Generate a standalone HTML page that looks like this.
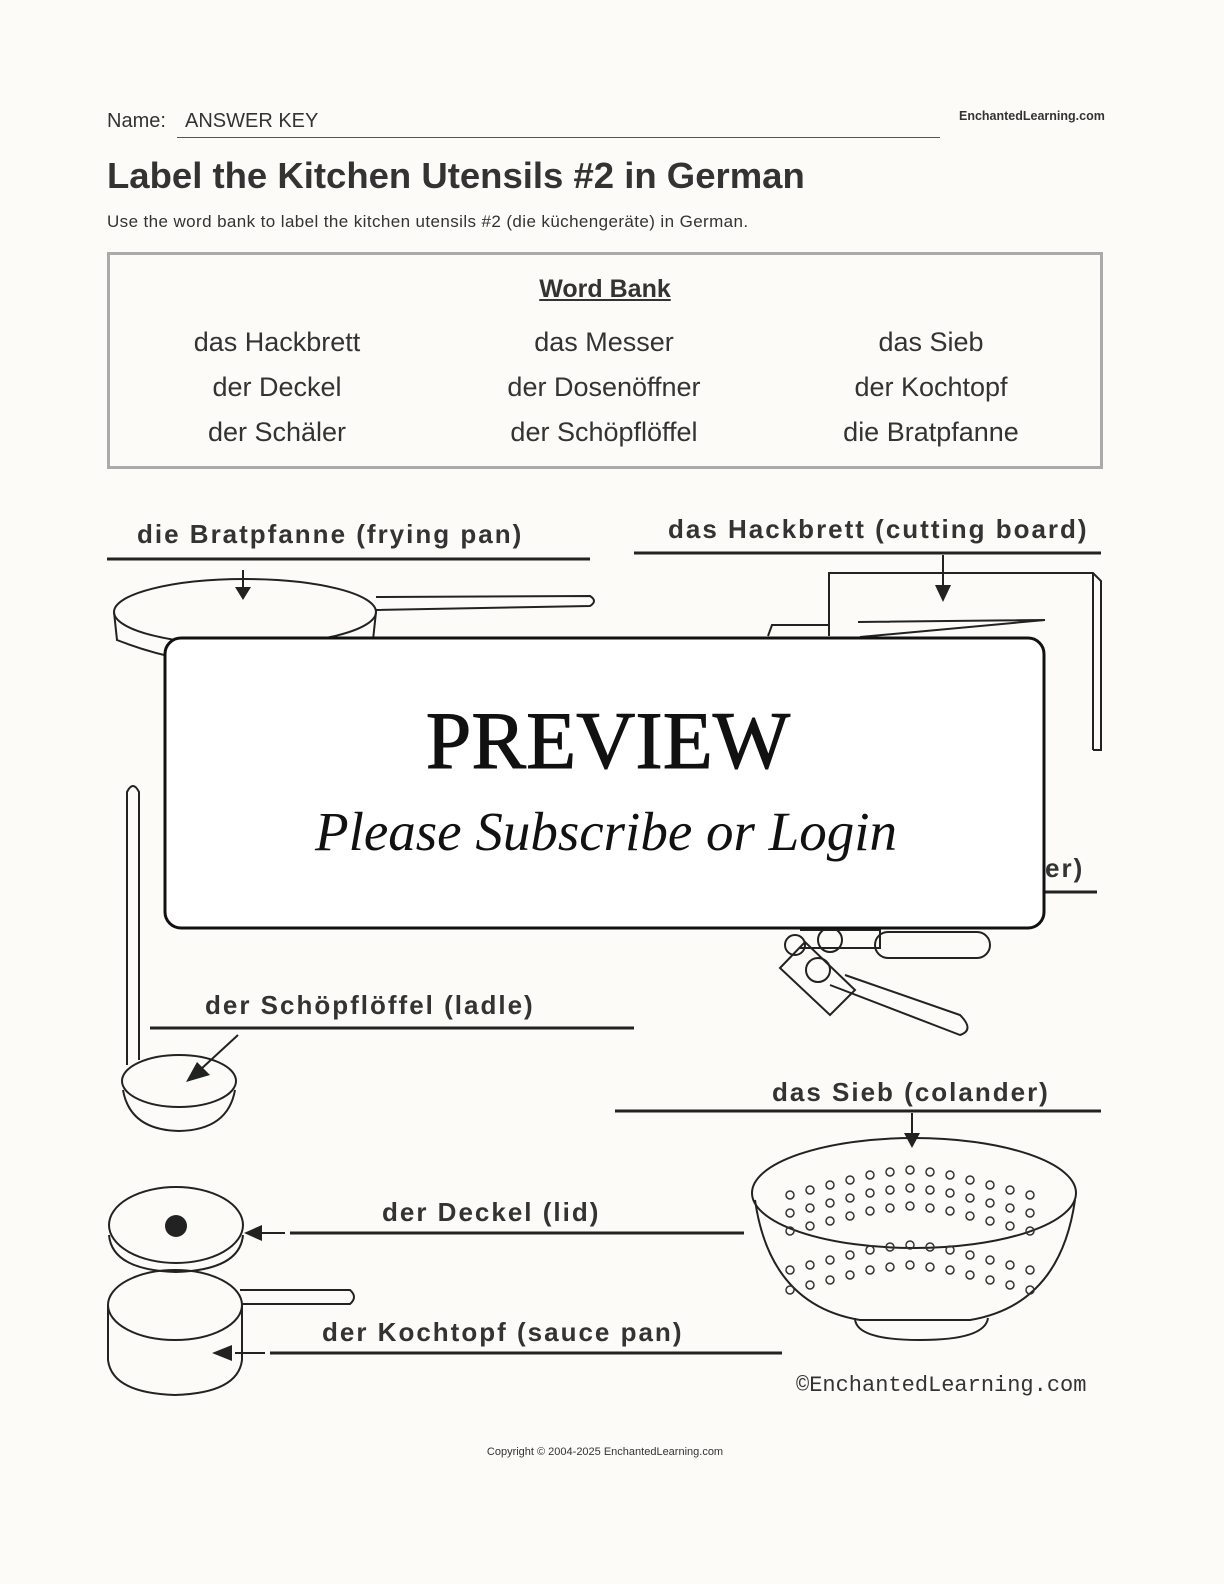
<!DOCTYPE html>
<html><head><meta charset="utf-8"><style>
html,body{margin:0;padding:0;background:#fcfbf8;}
body{width:1224px;height:1584px;position:relative;overflow:hidden;font-family:"Liberation Sans",sans-serif;color:#333;}
.abs{position:absolute;white-space:nowrap;}
</style></head><body>
<div class="abs" style="left:107px;top:110px;font-size:20px;">Name:</div>
<div class="abs" style="left:185px;top:110px;font-size:20px;">ANSWER KEY</div>
<div class="abs" style="left:177px;top:137px;width:763px;border-top:1.5px solid #555;"></div>
<div class="abs" style="left:959px;top:109px;font-size:12.5px;font-weight:bold;">EnchantedLearning.com</div>
<div class="abs" style="left:107px;top:155px;font-size:36.5px;font-weight:bold;">Label the Kitchen Utensils #2 in German</div>
<div class="abs" style="left:107px;top:212px;font-size:17px;letter-spacing:0.4px;">Use the word bank to label the kitchen utensils #2 (die küchengeräte) in German.</div>
<div class="abs" style="left:107px;top:252px;width:990px;height:211px;border:3px solid #aaa;"></div>
<div class="abs" style="left:505px;top:275px;width:200px;text-align:center;font-size:25px;font-weight:bold;text-decoration:underline;">Word Bank</div>
<div style="position:absolute;left:0;top:320px;font-size:27px;line-height:45px;">
<div class="abs" style="left:127px;width:300px;text-align:center;">das Hackbrett<br>der Deckel<br>der Schäler</div>
<div class="abs" style="left:454px;width:300px;text-align:center;">das Messer<br>der Dosenöffner<br>der Schöpflöffel</div>
<div class="abs" style="left:781px;width:300px;text-align:center;">das Sieb<br>der Kochtopf<br>die Bratpfanne</div>
</div>
<svg class="abs" style="left:0;top:0" width="1224" height="1584" viewBox="0 0 1224 1584">
<g stroke="#222" stroke-width="3" fill="none">
<line x1="107" y1="559" x2="590" y2="559"/>
<line x1="634" y1="553" x2="1101" y2="553"/>
<line x1="150" y1="1028" x2="634" y2="1028"/>
<line x1="615" y1="1111" x2="1101" y2="1111"/>
<line x1="290" y1="1233" x2="744" y2="1233"/>
<line x1="270" y1="1353" x2="782" y2="1353"/>
<line x1="1000" y1="892" x2="1097" y2="892"/>
</g>
<g stroke="#222" stroke-width="2" fill="none">
<ellipse cx="245" cy="612" rx="131" ry="33"/>
<path d="M114 612 L117 640 Q245 690 373 640 L376 612"/>
<path d="M376 597 L590 596 Q598 601 590 606 L376 610"/>
<line x1="243" y1="570" x2="243" y2="592"/>
<path d="M829 636 V573 H1093 L1101 581 V750 H1093"/>
<line x1="1093" y1="573" x2="1093" y2="750"/>
<path d="M858 622 L1045 620 L860 637"/>
<path d="M768 636 L772 625 L830 625"/>
<line x1="943" y1="555" x2="943" y2="590"/>
<path d="M127 1065 V792 Q133 780 139 792 V1060"/>
<ellipse cx="179" cy="1081" rx="57" ry="26"/>
<path d="M123 1090 Q130 1130 179 1131 Q228 1130 235 1090"/>
<line x1="238" y1="1035" x2="200" y2="1070"/>
<path d="M800 930 H880 V948 H800"/><rect x="875" y="932" width="115" height="26" rx="13"/>
<circle cx="830" cy="940" r="12"/><circle cx="795" cy="945" r="10"/>
<path d="M780 968 L805 942 L855 990 L830 1015 Z"/>
<path d="M845 975 L960 1015 Q975 1030 960 1035 L830 985"/>
<circle cx="818" cy="970" r="12"/>
<ellipse cx="914" cy="1193" rx="162" ry="55"/>
<path d="M755 1200 Q770 1305 860 1320 L970 1320 Q1060 1305 1075 1200"/>
<path d="M855 1318 Q855 1340 920 1340 Q985 1340 988 1318"/>
<line x1="912" y1="1113" x2="912" y2="1138"/>
<ellipse cx="176" cy="1225" rx="67" ry="38"/>
<path d="M109 1235 Q112 1270 176 1272 Q240 1270 243 1235"/>
<ellipse cx="175" cy="1305" rx="67" ry="35"/>
<path d="M108 1305 V1360 Q112 1393 175 1395 Q238 1393 242 1360 V1305"/>
<path d="M240 1290 H350 Q358 1297 350 1304 H242"/>
<line x1="285" y1="1233" x2="262" y2="1233"/>
<line x1="265" y1="1353" x2="235" y2="1353"/>
</g>
<g fill="#222">
<circle cx="176" cy="1226" r="11"/>
<polygon points="235,587 251,587 243,600"/>
<polygon points="935,585 951,585 943,602"/>
<polygon points="904,1133 920,1133 912,1148"/>
<polygon points="186,1082 210,1075 197,1062"/>
<polygon points="244,1233 262,1225 262,1241"/>
<polygon points="212,1353 232,1345 232,1361"/>
</g>
<g fill="none" stroke="#333" stroke-width="1.5">
<g id="holes"><circle cx="790" cy="1195" r="4"/><circle cx="810" cy="1190" r="4"/><circle cx="830" cy="1185" r="4"/><circle cx="850" cy="1180" r="4"/><circle cx="870" cy="1175" r="4"/><circle cx="890" cy="1172" r="4"/><circle cx="910" cy="1170" r="4"/><circle cx="930" cy="1172" r="4"/><circle cx="950" cy="1175" r="4"/><circle cx="970" cy="1180" r="4"/><circle cx="990" cy="1185" r="4"/><circle cx="1010" cy="1190" r="4"/><circle cx="1030" cy="1195" r="4"/></g>
<use href="#holes" y="18"/><use href="#holes" y="36"/><use href="#holes" y="75"/><use href="#holes" y="95"/>
</g>
<g font-family="Liberation Sans, sans-serif" font-weight="bold" font-size="26" fill="#333" letter-spacing="2">
<text x="137" y="543">die Bratpfanne (frying pan)</text>
<text x="668" y="538">das Hackbrett (cutting board)</text>
<text x="1045" y="877">er)</text>
<text x="205" y="1014">der Schöpflöffel (ladle)</text>
<text x="772" y="1101">das Sieb (colander)</text>
<text x="382" y="1221">der Deckel (lid)</text>
<text x="322" y="1341">der Kochtopf (sauce pan)</text>
<text x="796" y="1391" font-weight="normal" font-size="22" letter-spacing="0" font-family="Liberation Mono, monospace">©EnchantedLearning.com</text>
</g>
<rect x="165" y="638" width="879" height="290" rx="16" fill="#fff" stroke="#111" stroke-width="3"/>
<text x="608" y="768" text-anchor="middle" font-family="Liberation Serif, serif" font-size="82" fill="#111" stroke="#111" stroke-width="1">PREVIEW</text>
<text x="606" y="850" text-anchor="middle" font-family="Liberation Serif, serif" font-style="italic" font-size="55" fill="#111">Please Subscribe or Login</text>
</svg>
<div class="abs" style="left:0;width:1210px;top:1446px;text-align:center;font-size:11px;">Copyright © 2004-2025 EnchantedLearning.com</div>
</body></html>
